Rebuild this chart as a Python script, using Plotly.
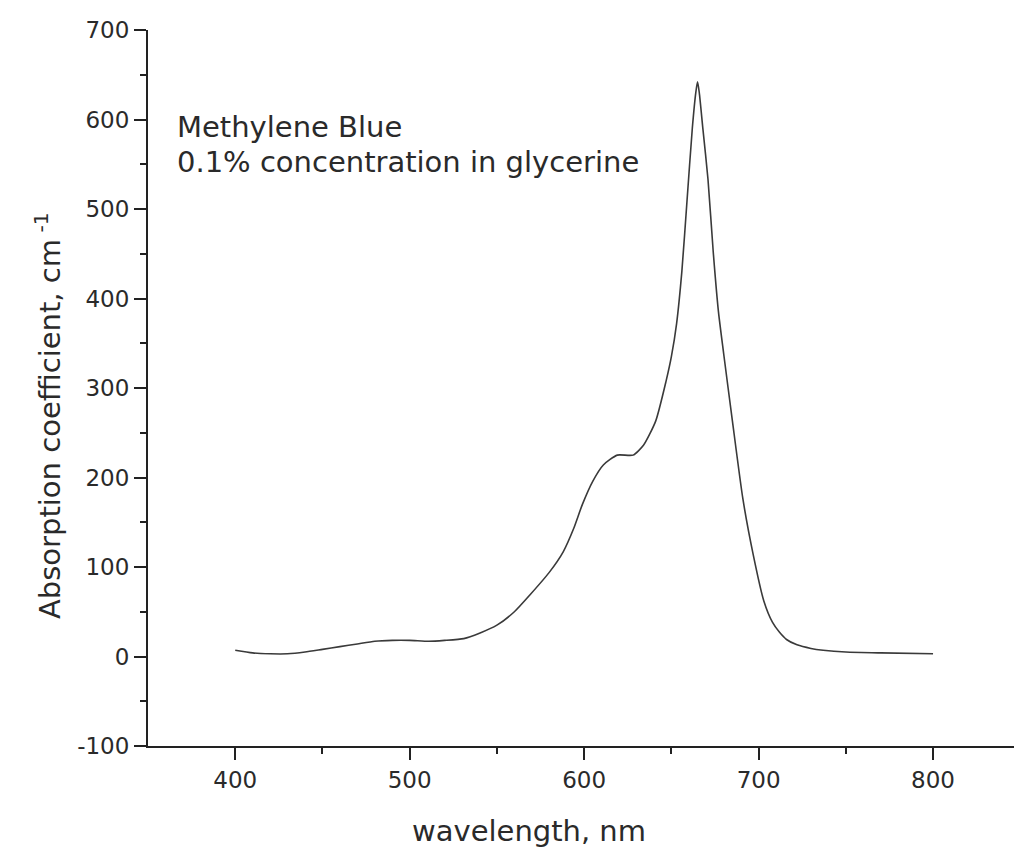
import plotly.graph_objects as go

wavelength = [400, 410, 420, 430, 440, 450, 460, 470, 480, 490, 500, 511, 520, 531, 540, 550,
              560, 569, 580, 588, 594, 599, 605, 611, 619, 628, 634, 641, 647, 650, 653,
              656, 659, 662, 664, 665, 666, 668, 671, 674, 677, 680, 685, 691, 697, 703, 708,
              712, 716, 722, 730, 737, 750, 770, 800]
absorption = [7, 4, 3, 3, 5, 8, 11, 14, 17, 18, 18, 17, 18, 20, 26, 35,
              50, 69, 94, 117, 143, 170, 196, 214, 225, 225, 236, 263, 308, 335, 372,
              430, 510, 590, 630, 642, 630, 591, 533, 452, 385, 338, 263, 176, 113, 62, 38,
              27, 19, 13, 9, 7, 5, 4, 3]

x_ticks = [400, 500, 600, 700, 800]
y_ticks = [-100, 0, 100, 200, 300, 400, 500, 600, 700]

FONT = "DejaVu Sans, sans-serif"
TXT = "#2a2a2a"
AX = "#222222"

fig = go.Figure()
fig.add_trace(go.Scatter(x=wavelength, y=absorption, mode="lines",
                         line=dict(color="#3a3a3a", width=1.6, shape="spline", smoothing=0.6),
                         showlegend=False, hoverinfo="skip"))

fig.update_layout(
    width=1014, height=852,
    margin=dict(l=148, r=0, t=30, b=106),
    paper_bgcolor="white", plot_bgcolor="white",
    font=dict(family=FONT, color=TXT),
    xaxis=dict(range=[350, 846.4], tickvals=x_ticks, ticktext=[str(v) for v in x_ticks],
               showgrid=False, zeroline=False, showline=True, linecolor=AX, linewidth=2,
               ticks="outside", ticklen=12, tickwidth=2, tickcolor=AX,
               tickfont=dict(size=23, color=TXT, family=FONT),
               minor=dict(tickvals=[450, 550, 650, 750], ticks="outside", ticklen=6,
                          tickwidth=2, tickcolor=AX)),
    yaxis=dict(range=[-100, 700], tickvals=y_ticks, ticktext=[str(v) for v in y_ticks],
               showgrid=False, zeroline=False, showline=True, linecolor=AX, linewidth=2,
               ticks="outside", ticklen=12, tickwidth=2, tickcolor=AX,
               tickfont=dict(size=23, color=TXT, family=FONT),
               minor=dict(tickvals=[-50, 50, 150, 250, 350, 450, 550, 650], ticks="outside",
                          ticklen=6, tickwidth=2, tickcolor=AX)),
)

W0, W1, H0, H1 = 148, 1014, 30, 746


def px(x):
    return (x - W0) / (W1 - W0)


def py(y):
    return (H1 - y) / (H1 - H0)


fig.add_annotation(text="wavelength, nm", xref="paper", yref="paper",
                   x=px(529), y=py(831), xanchor="center", yanchor="middle", showarrow=False,
                   font=dict(size=29, color=TXT, family=FONT))
fig.add_annotation(text="Absorption coefficient, cm<sup> -1</sup>", xref="paper", yref="paper",
                   x=px(48), y=py(416), xanchor="center", yanchor="middle", textangle=-90,
                   showarrow=False, font=dict(size=29, color=TXT, family=FONT))
fig.add_annotation(text="Methylene Blue", xref="paper", yref="paper",
                   x=px(175), y=py(127), xanchor="left", yanchor="middle", showarrow=False,
                   font=dict(size=29, color=TXT, family=FONT))
fig.add_annotation(text="0.1% concentration in glycerine", xref="paper", yref="paper",
                   x=px(175), y=py(162), xanchor="left", yanchor="middle", showarrow=False,
                   font=dict(size=29, color=TXT, family=FONT))

fig.write_html("out.html")
